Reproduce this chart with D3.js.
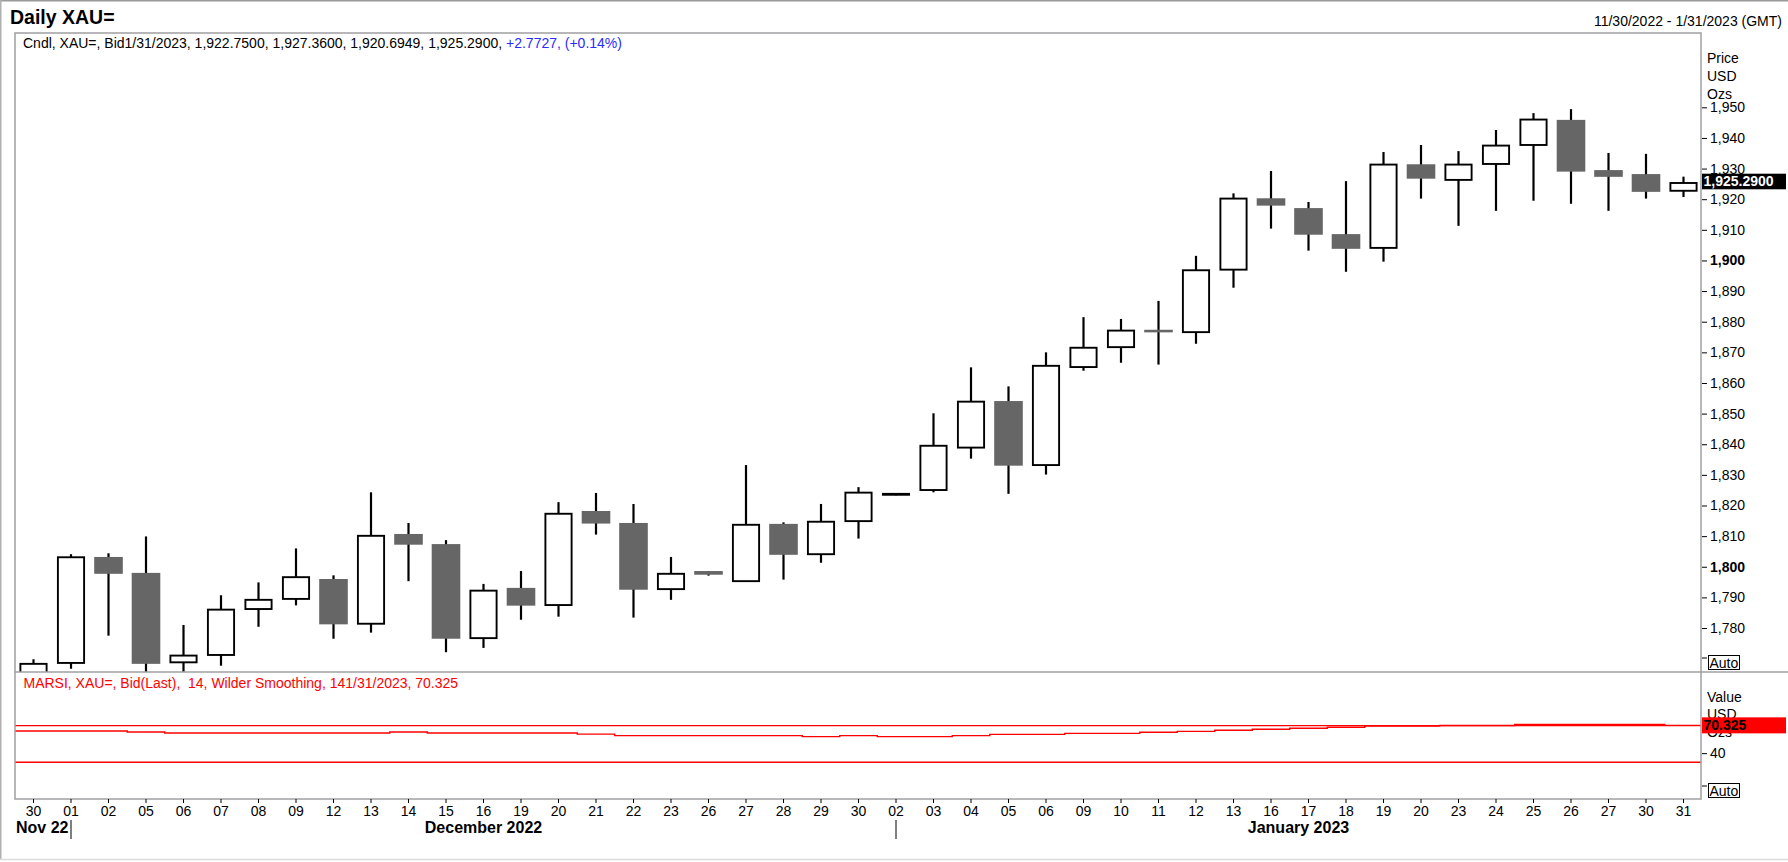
<!DOCTYPE html>
<html>
<head>
<meta charset="utf-8">
<script src="https://cdn.jsdelivr.net/npm/d3@7"></script>
<style>
  html, body { margin: 0; padding: 0; background: #ffffff; }
  svg { display: block; font-family: "Liberation Sans", Arial, sans-serif; }
  text { white-space: pre; }
</style>
</head>
<body>
<script>
// ---------------- DATA ----------------
const dates = ["2022-11-30","2022-12-01","2022-12-02","2022-12-05","2022-12-06","2022-12-07","2022-12-08","2022-12-09",
  "2022-12-12","2022-12-13","2022-12-14","2022-12-15","2022-12-16","2022-12-19","2022-12-20","2022-12-21","2022-12-22",
  "2022-12-23","2022-12-26","2022-12-27","2022-12-28","2022-12-29","2022-12-30","2023-01-02","2023-01-03","2023-01-04",
  "2023-01-05","2023-01-06","2023-01-09","2023-01-10","2023-01-11","2023-01-12","2023-01-13","2023-01-16","2023-01-17",
  "2023-01-18","2023-01-19","2023-01-20","2023-01-23","2023-01-24","2023-01-25","2023-01-26","2023-01-27","2023-01-30",
  "2023-01-31"];
const dayLabels = ["30","01","02","05","06","07","08","09","12","13","14","15","16","19","20","21","22","23","26","27",
  "28","29","30","02","03","04","05","06","09","10","11","12","13","16","17","18","19","20","23","24","25","26","27","30","31"];
const opens  = [1750.0,1768.6,1803.2,1798.0,1768.8,1771.2,1786.2,1789.5,1796.0,1781.4,1810.7,1807.4,1776.7,1793.1,1787.5,
  1818.2,1814.3,1792.7,1798.6,1795.3,1814.0,1804.1,1814.9,1823.5,1825.05,1838.9,1854.1,1833.2,1865.2,1871.7,1877.2,1876.6,
  1897.0,1920.3,1917.1,1908.6,1904.1,1931.4,1926.3,1931.5,1937.7,1945.9,1929.5,1928.2,1922.75];
const highs  = [1769.8,1804.1,1804.4,1809.9,1781.0,1790.7,1794.9,1806.0,1797.2,1824.3,1814.3,1808.7,1794.4,1798.6,1821.1,
  1824.1,1820.5,1803.2,1798.6,1833.2,1814.5,1820.5,1826.0,1824.0,1850.1,1865.1,1858.9,1870.0,1881.5,1880.9,1886.8,1901.5,
  1921.9,1929.2,1919.1,1925.9,1935.4,1937.7,1935.7,1942.6,1948.1,1949.4,1935.1,1934.8,1927.36];
const lows   = [1745.0,1766.7,1777.5,1765.0,1765.5,1767.7,1780.4,1787.4,1776.5,1778.5,1795.3,1772.1,1773.5,1782.7,1783.7,
  1810.5,1783.4,1789.2,1797.1,1795.3,1795.8,1801.3,1809.2,1823.3,1824.3,1835.3,1823.8,1830.1,1864.0,1866.6,1866.0,1872.8,
  1891.1,1910.4,1903.2,1896.3,1899.6,1920.2,1911.3,1916.2,1919.5,1918.5,1916.2,1920.2,1920.6949];
const closes = [1768.3,1803.1,1797.7,1768.3,1771.0,1786.0,1789.2,1796.6,1781.2,1810.1,1807.2,1776.5,1792.2,1787.3,1817.3,
  1814.1,1792.5,1797.7,1797.4,1813.7,1803.9,1814.7,1824.2,1823.8,1839.5,1853.9,1833.0,1865.6,1871.5,1877.1,1876.7,1896.8,
  1920.2,1917.9,1908.4,1903.8,1931.3,1926.7,1931.3,1937.5,1946.0,1929.0,1927.3,1922.4,1925.29];
const rsi = [64.2,64.2,64.2,63.1,62.0,62.0,62.0,62.0,62.0,62.0,63.1,62.0,62.0,62.0,62.0,60.7,59.1,59.1,59.1,59.1,59.1,58.0,
  59.1,58.0,58.0,59.1,60.5,60.5,61.6,61.6,62.8,63.8,64.9,66.0,67.1,68.2,69.6,69.6,70.1,70.1,71.3,71.3,71.3,71.3,70.325];
const rsiLevels = [70, 30];
const priceTicks = [1780,1790,1800,1810,1820,1830,1840,1850,1860,1870,1880,1890,1900,1910,1920,1930,1940,1950];
const boldPriceTicks = [1800, 1900];
const rsiTicks = [40];
const months = [
  {label: "Nov 22", date: "2022-11-30", sep: "2022-12-01", dx: 0},
  {label: "December 2022", date: "2022-12-16", sep: null, dx: 0},
  {label: "January 2023", date: "2023-01-17", sep: "2023-01-02", dx: -10}
];
const titleText = "Daily XAU=";
const rangeText = "11/30/2022 - 1/31/2023 (GMT)";
const legendMain = "Cndl, XAU=, Bid1/31/2023, 1,922.7500, 1,927.3600, 1,920.6949, 1,925.2900, ";
const legendChange = "+2.7727, (+0.14%)";
const rsiLegend = "MARSI, XAU=, Bid(Last),  14, Wilder Smoothing, 141/31/2023, 70.325";
const lastPriceLabel = "1,925.2900";
const lastRsiLabel = "70.325";

// ---------------- LAYOUT ----------------
const W = 1788, H = 862;
const L = 15, R = 1701, T = 33, MID = 672, B = 799;
const FS = 14;
const GRAY = "#666666", FRAME = "#a0a0a4";

const svg = d3.select("body").append("svg").attr("width", W).attr("height", H);
svg.append("rect").attr("width", W).attr("height", H).attr("fill", "#fff");

// outer frame
svg.append("line").attr("x1",0).attr("x2",W).attr("y1",0.75).attr("y2",0.75).attr("stroke","#9a9a9a").attr("stroke-width",1.5);
svg.append("line").attr("x1",0.75).attr("x2",0.75).attr("y1",0).attr("y2",860).attr("stroke","#b0b0b0").attr("stroke-width",1.5);
svg.append("line").attr("x1",0).attr("x2",W).attr("y1",859.5).attr("y2",859.5).attr("stroke","#dcdcdc").attr("stroke-width",1.5);

const x = d3.scaleBand().domain(dates).range([14.75, 1702.25]).padding(0);
const bw = x.bandwidth();
const cx = d => x(d) + bw / 2;
const y = d3.scaleLinear().domain([1765.64, 1974.26]).range([MID, T]);
const yr = d3.scaleLinear().domain([-10, 128.5]).range([B, MID]);

const defs = svg.append("defs");
defs.append("clipPath").attr("id","clipP").append("rect").attr("x",L).attr("y",T).attr("width",R-L).attr("height",MID-T);
defs.append("clipPath").attr("id","clipR").append("rect").attr("x",L).attr("y",MID).attr("width",R-L).attr("height",B-MID);

// ---------------- CANDLES ----------------
const data = dates.map((d,i) => ({d, o: opens[i], h: highs[i], l: lows[i], c: closes[i]}));
const gC = svg.append("g").attr("clip-path","url(#clipP)");
gC.selectAll("line.wick").data(data).join("line").attr("class","wick")
  .attr("x1", p => cx(p.d)).attr("x2", p => cx(p.d))
  .attr("y1", p => y(p.h)).attr("y2", p => y(p.l))
  .attr("stroke","#000").attr("stroke-width",2.2);
// down bodies
gC.selectAll("rect.down").data(data.filter(p => p.c < p.o)).join("rect").attr("class","down")
  .attr("x", p => cx(p.d) - 14.3).attr("width", 28.6)
  .attr("y", p => Math.min(y(p.o), y(p.c)) - Math.max(0, 2.6 - Math.abs(y(p.o)-y(p.c)))/2)
  .attr("height", p => Math.max(2.6, Math.abs(y(p.o) - y(p.c))))
  .attr("fill", GRAY);
// up bodies
gC.selectAll("rect.up").data(data.filter(p => p.c >= p.o)).join("rect").attr("class","up")
  .attr("x", p => cx(p.d) - 13.1).attr("width", 26.2)
  .attr("y", p => y(p.c)).attr("height", p => Math.max(0.6, y(p.o) - y(p.c)))
  .attr("fill", "#fff").attr("stroke","#000").attr("stroke-width",1.9);

// ---------------- RSI ----------------
const gR = svg.append("g").attr("clip-path","url(#clipR)");
gR.selectAll("line.lvl").data(rsiLevels).join("line").attr("class","lvl")
  .attr("x1", L).attr("x2", R).attr("y1", v => yr(v)).attr("y2", v => yr(v))
  .attr("stroke", "#ff0000").attr("stroke-width", 1.4);
const rsiPts = dates.map((d,i) => [x(d), yr(rsi[i])]);
rsiPts.push([x(dates[dates.length-1]) + bw, yr(rsi[rsi.length-1])]);
gR.append("path").attr("d", d3.line().curve(d3.curveStepAfter)(rsiPts))
  .attr("fill","none").attr("stroke","#ff0000").attr("stroke-width",1.4);

// ---------------- FRAMES ----------------
svg.append("rect").attr("x",L).attr("y",T).attr("width",R-L).attr("height",B-T)
  .attr("fill","none").attr("stroke",FRAME).attr("stroke-width",1.5);
svg.append("line").attr("x1",L).attr("x2",W).attr("y1",MID).attr("y2",MID).attr("stroke",FRAME).attr("stroke-width",1.5);

// ---------------- AXES ----------------
const axP = svg.append("g").attr("transform",`translate(${R+1},0)`)
  .call(d3.axisRight(y).tickValues(priceTicks).tickSize(5).tickPadding(3).tickFormat(d3.format(",")));
axP.select(".domain").remove();
axP.selectAll("text").attr("font-size",FS).attr("font-family","Liberation Sans, Arial, sans-serif").attr("fill","#000")
  .attr("font-weight", v => boldPriceTicks.includes(v) ? "bold" : "normal");
axP.selectAll("line").attr("stroke","#000");

const axR = svg.append("g").attr("transform",`translate(${R+1},0)`)
  .call(d3.axisRight(yr).tickValues(rsiTicks).tickSize(5).tickPadding(3));
axR.select(".domain").remove();
axR.selectAll("text").attr("font-size",FS).attr("font-family","Liberation Sans, Arial, sans-serif").attr("fill","#000");
axR.selectAll("line").attr("stroke","#000");

const axX = svg.append("g").attr("transform",`translate(0,${B})`)
  .call(d3.axisBottom(x).tickSize(4).tickPadding(3).tickFormat((d,i) => dayLabels[i]));
axX.select(".domain").remove();
axX.selectAll("text").attr("font-size",FS).attr("font-family","Liberation Sans, Arial, sans-serif").attr("fill","#000");
axX.selectAll("line").attr("stroke","#000");

// month labels
months.forEach(m => {
  const isFirst = m.label === "Nov 22";
  svg.append("text").attr("x", isFirst ? L + 1 : cx(m.date) + m.dx).attr("y", 833)
    .attr("text-anchor", isFirst ? "start" : "middle")
    .attr("font-size", 16).attr("font-weight","bold").attr("fill","#000").text(m.label);
  if (m.sep) {
    svg.append("line").attr("x1", cx(m.sep)).attr("x2", cx(m.sep)).attr("y1", 820).attr("y2", 839)
      .attr("stroke","#000").attr("stroke-width",1);
  }
});

// axis unit labels
const unitX = R + 6;
[["Price",63],["USD",81],["Ozs",99]].forEach(([t,yy]) =>
  svg.append("text").attr("x",unitX).attr("y",yy).attr("font-size",FS).attr("fill","#000").text(t));
[["Value",702],["USD",719],["Ozs",737]].forEach(([t,yy]) =>
  svg.append("text").attr("x",unitX).attr("y",yy).attr("font-size",FS).attr("fill","#000").text(t));

// Auto boxes
function autoBox(yTick) {
  svg.append("line").attr("x1",R+1).attr("x2",R+6).attr("y1",yTick).attr("y2",yTick).attr("stroke","#000");
  svg.append("rect").attr("x",1708.5).attr("y",yTick-2.5).attr("width",31).attr("height",14)
    .attr("fill","#fff").attr("stroke","#000").attr("stroke-width",1);
  svg.append("text").attr("x",1709.5).attr("y",yTick+9.5).attr("font-size",FS).attr("fill","#000").text("Auto");
}
autoBox(658);
autoBox(786);

// last value markers
const lp = y(closes[closes.length-1]);
svg.append("rect").attr("x",R+1).attr("y",lp-9.3).attr("width",84).attr("height",15.6).attr("fill","#000");
svg.append("text").attr("x",R+2.5).attr("y",lp+3.2).attr("font-size",FS).attr("font-weight","bold").attr("fill","#fff").text(lastPriceLabel);
const lr = yr(rsi[rsi.length-1]);
svg.append("rect").attr("x",R+1).attr("y",lr-8).attr("width",84).attr("height",16).attr("fill","#ff0000");
svg.append("text").attr("x",R+2.5).attr("y",lr+5).attr("font-size",FS).attr("font-weight","bold").attr("fill","#000").text(lastRsiLabel);

// titles and legends
svg.append("text").attr("x",10).attr("y",24).attr("font-size",19.5).attr("font-weight","bold").attr("fill","#000").text(titleText);
svg.append("text").attr("x",1782).attr("y",26).attr("text-anchor","end").attr("font-size",FS).attr("fill","#000").text(rangeText);
const lg = svg.append("text").attr("x",23).attr("y",47.5).attr("font-size",FS);
lg.append("tspan").attr("fill","#000").text(legendMain);
lg.append("tspan").attr("fill","#2b2bff").text(legendChange);
svg.append("text").attr("x",23.5).attr("y",687.5).attr("font-size",FS).attr("fill","#ff0000").text(rsiLegend);
</script>
</body>
</html>
